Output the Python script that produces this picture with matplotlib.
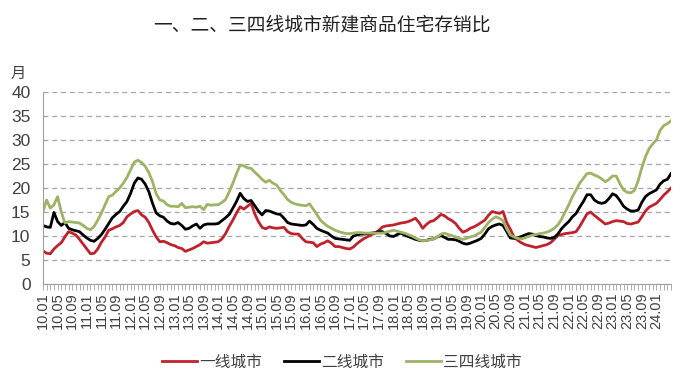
import matplotlib
matplotlib.use("Agg")
import matplotlib.pyplot as plt
import numpy as np

# ---- data (monthly, 2010.01 - 2024.05) ----
tier1 = [6.9, 6.4, 6.3, 7.3, 8.0, 8.6, 9.8, 10.9, 10.6, 10.2, 9.3, 8.3,
         7.3, 6.3, 6.4, 7.3, 8.7, 9.8, 11.2, 11.5, 11.9, 12.2, 12.8, 14.0,
         14.6, 15.1, 15.3, 14.4, 13.9, 12.8, 11.2, 9.8, 8.8, 8.9, 8.6, 8.2,
         8.0, 7.6, 7.4, 6.8, 7.1, 7.4, 7.8, 8.2, 8.8, 8.5, 8.6, 8.7,
         8.8, 9.4, 10.5, 12.0, 13.3, 14.8, 16.1, 15.6, 16.2, 16.8, 14.6, 13.0,
         11.8, 11.5, 11.9, 11.7, 11.6, 11.7, 11.8, 10.9, 10.5, 10.4, 10.4, 9.5,
         8.8, 8.7, 8.6, 7.8, 8.3, 8.6, 9.0, 8.5, 7.8, 7.8, 7.6, 7.4,
         7.3, 7.7, 8.4, 9.0, 9.5, 9.9, 10.3, 10.6, 11.2, 11.9, 12.1, 12.2,
         12.3, 12.5, 12.7, 12.8, 13.0, 13.3, 13.7, 12.8, 11.6, 12.4, 13.0, 13.2,
         13.8, 14.5, 14.2, 13.6, 13.2, 12.6, 11.6, 10.8, 11.1, 11.6, 11.9, 12.3,
         12.8, 13.3, 14.3, 15.1, 14.9, 14.7, 15.1, 12.8, 11.4, 9.8, 9.1, 8.6,
         8.2, 8.0, 7.8, 7.6, 7.8, 8.0, 8.2, 8.6, 9.3, 10.1, 10.3, 10.5,
         10.6, 10.7, 10.9, 12.0, 13.3, 14.6, 15.0, 14.3, 13.7, 13.1, 12.5, 12.7,
         13.0, 13.2, 13.1, 13.0, 12.6, 12.5, 12.7, 12.9, 14.0, 15.2, 16.0, 16.4,
         16.8, 17.6, 18.5, 19.2, 20.0]

tier2 = [12.2, 11.9, 11.8, 14.9, 13.0, 12.2, 12.8, 11.6, 11.3, 11.1, 10.9, 10.2,
         9.6, 9.1, 8.9, 9.5, 10.3, 11.4, 12.6, 13.8, 14.5, 15.1, 16.2, 17.2,
         18.9, 21.0, 22.1, 21.8, 20.8, 19.2, 16.8, 14.8, 14.2, 13.9, 13.1, 12.6,
         12.5, 12.8, 12.2, 11.4, 11.6, 12.1, 12.5, 11.6, 12.3, 12.5, 12.5, 12.5,
         12.6, 13.2, 13.8, 14.5, 15.8, 17.2, 18.9, 17.8, 17.2, 17.4, 16.3, 15.2,
         14.4, 15.3, 15.2, 14.9, 14.6, 14.5, 13.7, 12.8, 12.5, 12.4, 12.3, 12.2,
         12.3, 13.1, 12.4, 11.6, 11.2, 10.9, 10.6, 10.0, 9.5, 9.4, 9.3, 9.2,
         9.1, 10.0, 10.2, 10.4, 10.4, 10.5, 10.6, 10.7, 10.9, 10.9, 10.5, 10.0,
         9.9, 10.3, 10.6, 10.2, 9.9, 9.6, 9.3, 9.1, 9.0, 9.1, 9.3, 9.4,
         9.8, 10.1, 9.7, 9.3, 9.3, 9.2, 8.9, 8.5, 8.3, 8.5, 8.8, 9.1,
         9.5, 10.4, 11.5, 12.0, 12.3, 12.5, 12.2, 10.9, 9.6, 9.5, 9.6, 9.9,
         10.2, 10.5, 10.4, 10.1, 9.9, 9.8, 9.6, 9.5, 9.7, 10.4, 11.5, 12.3,
         13.0, 14.0, 14.7, 16.0, 17.2, 18.6, 18.6, 17.5, 17.0, 16.8, 17.0, 17.8,
         18.8, 18.4, 17.4, 16.2, 15.6, 15.2, 15.2, 15.4, 17.0, 18.2, 18.8, 19.2,
         19.6, 20.8, 21.5, 21.8, 23.0]

tier34 = [15.1, 17.5, 15.8, 16.5, 18.2, 15.0, 12.7, 13.0, 12.9, 12.8, 12.7, 12.2,
          11.6, 11.3, 12.0, 13.3, 14.8, 16.5, 18.2, 18.5, 19.3, 20.0, 21.0, 22.2,
          23.8, 25.4, 25.8, 25.3, 24.5, 23.2, 21.3, 18.8, 17.5, 17.3, 16.5, 16.2,
          16.2, 16.1, 16.8, 15.9, 16.0, 16.1, 16.0, 16.2, 15.5, 16.6, 16.4, 16.5,
          16.5, 17.0, 17.6, 19.2, 21.0, 23.0, 24.8, 24.6, 24.2, 24.1, 23.3, 22.6,
          21.8, 21.2, 21.6, 21.0, 20.6, 19.5, 18.6, 17.6, 17.0, 16.7, 16.5, 16.4,
          16.3, 16.7, 15.6, 14.5, 13.3, 12.6, 12.0, 11.6, 11.2, 10.9, 10.7, 10.5,
          10.5, 10.6, 10.7, 10.7, 10.6, 10.6, 10.6, 10.6, 10.6, 10.6, 10.8, 11.0,
          11.2, 11.0, 10.8, 10.6, 10.3, 10.0, 9.6, 9.2, 9.0, 9.1, 9.2, 9.4,
          9.8, 10.4, 10.6, 10.3, 10.1, 9.8, 9.5, 9.3, 9.5, 9.8, 10.0, 10.4,
          10.8, 11.8, 12.8, 13.5, 14.0, 13.7, 13.2, 11.5, 10.2, 9.8, 9.5, 9.4,
          9.6, 9.9, 10.2, 10.3, 10.5, 10.6, 10.8, 11.1, 11.6, 12.3, 13.5, 15.0,
          16.5, 18.2, 19.6, 21.0, 22.0, 23.0, 23.1, 22.7, 22.4, 21.9, 21.3, 21.8,
          22.5, 22.5, 20.9, 19.6, 19.1, 19.0, 19.5, 21.5, 24.2, 26.5, 28.2, 29.2,
          30.0, 32.0, 33.0, 33.4, 34.0]

tick_labels = ["10.01", "10.05", "10.09", "11.01", "11.05", "11.09", "12.01", "12.05",
               "12.09", "13.01", "13.05", "13.09", "14.01", "14.05", "14.09", "15.01",
               "15.05", "15.09", "16.01", "16.05", "16.09", "17.01", "17.05", "17.09",
               "18.01", "18.05", "18.09", "19.01", "19.05", "19.09", "20.01", "20.05",
               "20.09", "21.01", "21.05", "21.09", "22.01", "22.05", "22.09", "23.01",
               "23.05", "23.09", "24.01"]
series_names = ["一线城市", "二线城市", "三四线城市"]
title = "一、二、三四线城市新建商品住宅存销比"
y_unit = "月"

colors = ["#BE222C", "#000000", "#9DB365"]
cjk = ["Noto Sans CJK SC", "DejaVu Sans"]
num_font = ["Liberation Sans", "DejaVu Sans"]

W, H = 698, 380
fig = plt.figure(figsize=(W / 100, H / 100), dpi=100)
ax = fig.add_axes([43 / W, (H - 284) / H, (671 - 43) / W, (284 - 92) / H])

x = np.arange(len(tier1))
for vals, c, name in zip([tier1, tier2, tier34], colors, series_names):
    ax.plot(x, vals, color=c, lw=2.0, label=name, solid_joinstyle="round")

ax.set_xlim(0, len(tier1) - 1)
ax.set_ylim(0, 40)
ax.set_yticks(np.arange(0, 41, 5))
ax.yaxis.grid(True, color="#A6A6A6", linestyle=(0, (4, 3)), linewidth=0.9)
ax.set_axisbelow(True)

ax.set_xticks(np.arange(0, 4 * len(tick_labels), 4))
ax.set_xticklabels(tick_labels, rotation=90, fontfamily=num_font, fontsize=10.5,
                   color="#404040")
ax.set_xticks(x, minor=True)
ax.tick_params(axis="x", which="both", length=4, width=0.6, color="#A0A0A0",
               direction="out", pad=2)
ax.tick_params(axis="y", length=0, pad=9, labelsize=12.5, labelcolor="#404040")
for lbl in ax.get_yticklabels():
    lbl.set_fontfamily(num_font)

for s in ["top", "right"]:
    ax.spines[s].set_visible(False)
ax.spines["left"].set_color("#A0A0A0")
ax.spines["bottom"].set_color("#A0A0A0")
ax.spines["left"].set_linewidth(0.8)
ax.spines["bottom"].set_linewidth(0.8)

fig.text(322 / W, 1 - 25 / H, title, ha="center", va="center",
         fontsize=13.5, family=cjk, color="#202020")
fig.text(18 / W, 1 - 73 / H, y_unit, ha="center", va="center",
         fontsize=11, family=cjk, color="#404040")

leg = fig.legend(loc="center", bbox_to_anchor=(342 / W, 1 - 362 / H), ncol=3,
                 frameon=False, prop={"family": cjk, "size": 11.3},
                 handlelength=2.2, handletextpad=0.15, columnspacing=1.4)
for t in leg.get_texts():
    t.set_color("#404040")

fig.savefig("out.png", dpi=100)
